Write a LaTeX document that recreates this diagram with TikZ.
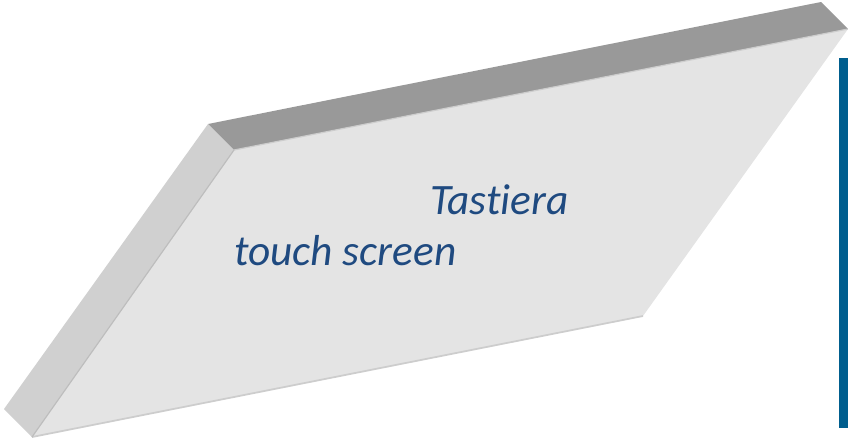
\documentclass[tikz,border=0pt]{standalone}
\usepackage{fontspec}
\setmainfont{Carlito}[Ligatures=CommonOff]
\usetikzlibrary{positioning}
\definecolor{slabtop}{HTML}{E4E4E4}
\definecolor{slabback}{HTML}{999999}
\definecolor{slabside}{HTML}{D0D0D0}
\definecolor{slabline}{HTML}{CDCDCD}
\definecolor{labelblue}{HTML}{1F4A80}
\definecolor{barblue}{HTML}{005E8E}

\begin{document}
\begin{tikzpicture}[x=0.03cm, y=-0.03cm,
    every node/.style={font=\fontsize{37}{40}\selectfont\itshape, text=labelblue, inner sep=0pt}]

\useasboundingbox (0,0) rectangle (848,437);

% Corners of the slab
\coordinate (bl) at (208,124);
\coordinate (br) at (821,2);
\coordinate (tl) at (234,150);
\coordinate (tr) at (848,29);
\coordinate (fr) at (643,316);
\coordinate (fl) at (32,437);
\coordinate (ol) at (4,409);

% Back edge
\fill[slabback] (bl) -- (br) -- (tr) -- (tl) -- cycle;
% Left edge
\fill[slabside] (bl) -- (tl) -- (fl) -- (ol) -- cycle;
% Top face
\fill[slabtop] (tl) -- (tr) -- (fr) -- (fl) -- cycle;
\draw[slabline, line width=1pt] (tl) -- (tr);
\draw[slabline, line width=1.5pt] (fl) -- (fr);
\draw[slabline!80!gray, line width=1pt] (tl) -- (fl);

% Labels
\node[anchor=base west] (tastiera) at (430,214) {Tastiera};
\node[anchor=base west] (touch) at (234,265) {touch screen};

% Side bar
\fill[barblue] (839,58) rectangle (848,428);

\end{tikzpicture}
\end{document}
